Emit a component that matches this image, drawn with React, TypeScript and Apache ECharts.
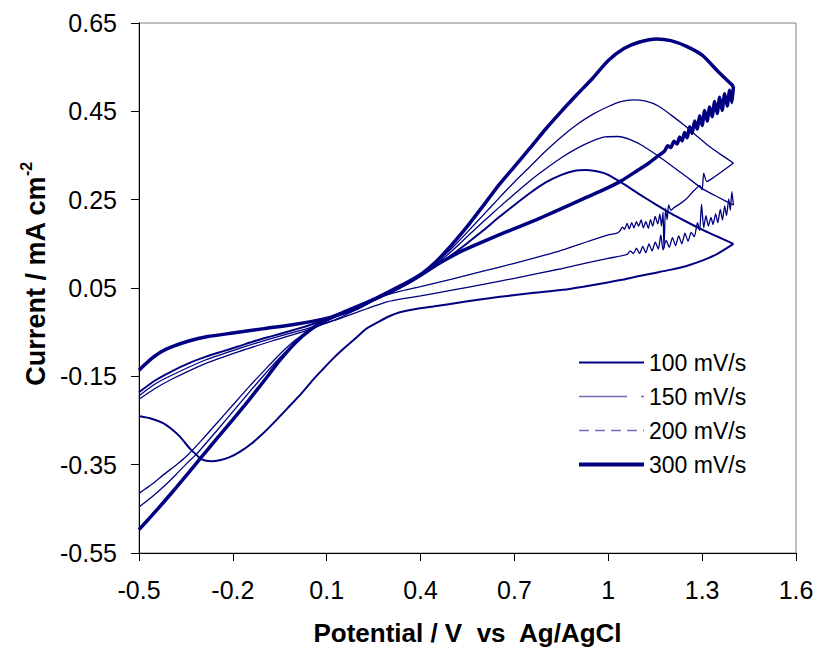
import React, { useEffect, useRef } from "react";
import * as echarts from "echarts";

type Pt = [number, number];

const xTickStart = -0.5;
const xTickEnd = 1.6;
const xTickStep = 0.3;
const yTickStart = -0.55;
const yTickEnd = 0.65;
const yTickStep = 0.2;

const seriesNames = ["100 mV/s", "150 mV/s", "200 mV/s", "300 mV/s"];

// 100 mV/s
const cv100Forward: Pt[] = [
  [-0.5, -0.186], [-0.45, -0.16], [-0.394, -0.138], [-0.34, -0.12], [-0.288, -0.106], [-0.23, -0.093],
  [-0.181, -0.082], [-0.13, -0.07], [-0.075, -0.059], [-0.02, -0.048], [0.032, -0.037], [0.085, -0.025],
  [0.139, -0.012], [0.2, 0.006], [0.25, 0.022], [0.3, 0.039], [0.35, 0.057], [0.4, 0.077], [0.45, 0.1],
  [0.5, 0.125], [0.55, 0.152], [0.6, 0.18], [0.65, 0.21], [0.7, 0.238], [0.75, 0.265], [0.8, 0.289],
  [0.85, 0.306], [0.89, 0.315], [0.93, 0.317], [0.97, 0.313], [1.0, 0.306], [1.05, 0.285], [1.1, 0.262],
  [1.15, 0.24], [1.2, 0.219], [1.25, 0.2], [1.3, 0.182], [1.35, 0.166], [1.4, 0.15],
];
const cv100Reverse: Pt[] = [
  [1.4, 0.15], [1.35, 0.128], [1.304, 0.113], [1.25, 0.1], [1.197, 0.091], [1.14, 0.083], [1.091, 0.076],
  [1.04, 0.068], [0.984, 0.061], [0.92, 0.053], [0.856, 0.046], [0.75, 0.038], [0.654, 0.03], [0.55, 0.02],
  [0.44, 0.008], [0.38, 0.002], [0.334, -0.005], [0.3, -0.014], [0.267, -0.026], [0.227, -0.042],
  [0.192, -0.064], [0.15, -0.09], [0.12, -0.11], [0.085, -0.136], [0.056, -0.158], [0.02, -0.188],
  [-0.025, -0.222], [-0.065, -0.252], [-0.103, -0.279], [-0.14, -0.302], [-0.178, -0.321], [-0.21, -0.333],
  [-0.242, -0.34], [-0.27, -0.342], [-0.3, -0.338], [-0.316, -0.328], [-0.338, -0.313], [-0.37, -0.286],
  [-0.4, -0.267], [-0.423, -0.256], [-0.46, -0.246], [-0.5, -0.24],
];

// 150 mV/s
const cv150Forward: Pt[] = [
  [-0.5, -0.415], [-0.46, -0.395], [-0.42, -0.372], [-0.38, -0.35], [-0.35, -0.332], [-0.3, -0.295],
  [-0.25, -0.255], [-0.2, -0.215], [-0.15, -0.175], [-0.1, -0.137], [-0.05, -0.1], [0.0, -0.068],
  [0.05, -0.043], [0.1, -0.023], [0.15, -0.007], [0.2, 0.008], [0.25, 0.023], [0.3, 0.04], [0.35, 0.058],
  [0.4, 0.078], [0.45, 0.104], [0.5, 0.134], [0.55, 0.167], [0.6, 0.2], [0.65, 0.232], [0.7, 0.263],
  [0.75, 0.293], [0.8, 0.32], [0.85, 0.345], [0.9, 0.366], [0.95, 0.383], [0.99, 0.392], [1.03, 0.393],
  [1.07, 0.386], [1.11, 0.372], [1.165, 0.346], [1.2, 0.328], [1.25, 0.302], [1.3, 0.275], [1.35, 0.256],
  [1.4, 0.238],
];
const cv150Reverse: Pt[] = [
  [1.4, 0.238], [1.395, 0.268], [1.39, 0.226], [1.385, 0.252], [1.378, 0.214], [1.372, 0.236],
  [1.365, 0.204], [1.358, 0.228], [1.35, 0.198], [1.343, 0.218], [1.335, 0.194], [1.328, 0.21],
  [1.32, 0.19], [1.312, 0.214], [1.305, 0.186], [1.298, 0.24], [1.292, 0.18], [1.285, 0.198],
  [1.275, 0.166], [1.265, 0.176], [1.255, 0.156], [1.245, 0.174], [1.235, 0.15], [1.225, 0.168],
  [1.215, 0.146], [1.205, 0.164], [1.195, 0.142], [1.185, 0.158], [1.175, 0.136], [1.168, 0.17],
  [1.16, 0.138], [1.15, 0.154], [1.14, 0.134], [1.13, 0.15], [1.12, 0.13], [1.11, 0.144], [1.1, 0.128],
  [1.09, 0.14], [1.08, 0.128], [1.07, 0.134], [1.06, 0.126], [1.0, 0.117], [0.9, 0.102], [0.845, 0.093],
  [0.7, 0.072], [0.6, 0.058], [0.5, 0.045], [0.4, 0.032], [0.33, 0.024], [0.28, 0.016], [0.2, -0.004],
  [0.139, -0.02], [0.085, -0.032], [0.032, -0.043], [-0.075, -0.064], [-0.181, -0.087], [-0.288, -0.113],
  [-0.394, -0.147], [-0.45, -0.168], [-0.5, -0.194],
];

// 200 mV/s
const cv200Forward: Pt[] = [
  [-0.5, -0.446], [-0.46, -0.424], [-0.42, -0.399], [-0.38, -0.371], [-0.34, -0.342], [-0.316, -0.326],
  [-0.25, -0.272], [-0.2, -0.23], [-0.15, -0.188], [-0.1, -0.147], [-0.05, -0.108], [0.0, -0.074],
  [0.05, -0.046], [0.1, -0.025], [0.15, -0.008], [0.2, 0.008], [0.25, 0.023], [0.3, 0.04], [0.35, 0.058],
  [0.4, 0.08], [0.45, 0.108], [0.5, 0.14], [0.55, 0.177], [0.6, 0.215], [0.65, 0.253], [0.7, 0.29],
  [0.75, 0.325], [0.8, 0.36], [0.85, 0.392], [0.9, 0.42], [0.95, 0.443], [1.0, 0.461], [1.04, 0.472],
  [1.08, 0.476], [1.12, 0.473], [1.16, 0.462], [1.2, 0.442], [1.24, 0.42], [1.28, 0.396], [1.32, 0.372],
  [1.36, 0.352], [1.4, 0.333],
];
const cv200Reverse: Pt[] = [
  [1.4, 0.333], [1.37, 0.317], [1.34, 0.302], [1.315, 0.291], [1.305, 0.31], [1.3, 0.272], [1.293, 0.282],
  [1.27, 0.268], [1.25, 0.252], [1.23, 0.241], [1.21, 0.232], [1.2, 0.226], [1.193, 0.238], [1.188, 0.205],
  [1.183, 0.23], [1.178, 0.14], [1.175, 0.222], [1.17, 0.19], [1.165, 0.218], [1.158, 0.195], [1.15, 0.212],
  [1.142, 0.19], [1.135, 0.205], [1.128, 0.185], [1.12, 0.2], [1.112, 0.186], [1.105, 0.204], [1.097, 0.19],
  [1.09, 0.2], [1.082, 0.186], [1.075, 0.198], [1.067, 0.184], [1.06, 0.196], [1.052, 0.183], [1.045, 0.188],
  [1.038, 0.18], [1.03, 0.175], [0.995, 0.169], [0.95, 0.159], [0.9, 0.147], [0.845, 0.134], [0.8, 0.125],
  [0.7, 0.106], [0.6, 0.088], [0.5, 0.07], [0.4, 0.053], [0.33, 0.042], [0.28, 0.032], [0.2, 0.003],
  [0.139, -0.018], [0.085, -0.033], [0.032, -0.047], [-0.075, -0.07], [-0.181, -0.094], [-0.288, -0.121],
  [-0.394, -0.156], [-0.45, -0.178], [-0.5, -0.202],
];

// 300 mV/s
const cv300Forward: Pt[] = [
  [-0.5, -0.497], [-0.46, -0.466], [-0.42, -0.434], [-0.38, -0.401], [-0.34, -0.367], [-0.304, -0.336],
  [-0.25, -0.29], [-0.2, -0.248], [-0.15, -0.205], [-0.1, -0.16], [-0.05, -0.114], [0.0, -0.074],
  [0.05, -0.043], [0.1, -0.022], [0.15, -0.006], [0.2, 0.009], [0.25, 0.024], [0.3, 0.04], [0.35, 0.058],
  [0.4, 0.08], [0.45, 0.11], [0.5, 0.148], [0.55, 0.19], [0.6, 0.236], [0.65, 0.283], [0.7, 0.325],
  [0.75, 0.367], [0.8, 0.41], [0.85, 0.45], [0.9, 0.488], [0.95, 0.525], [1.0, 0.565], [1.05, 0.592],
  [1.1, 0.607], [1.155, 0.614], [1.2, 0.61], [1.25, 0.597], [1.3, 0.577], [1.35, 0.541], [1.4, 0.507],
];
const cv300Reverse: Pt[] = [
  [1.4, 0.507], [1.395, 0.47], [1.388, 0.498], [1.38, 0.462], [1.372, 0.49], [1.364, 0.452], [1.356, 0.482],
  [1.348, 0.445], [1.34, 0.472], [1.332, 0.438], [1.324, 0.46], [1.316, 0.428], [1.308, 0.452], [1.3, 0.418],
  [1.292, 0.44], [1.284, 0.41], [1.276, 0.428], [1.268, 0.4], [1.26, 0.415], [1.252, 0.39], [1.244, 0.402],
  [1.236, 0.383], [1.228, 0.392], [1.22, 0.376], [1.21, 0.382], [1.2, 0.368], [1.19, 0.372], [1.18, 0.36],
  [1.165, 0.352], [1.13, 0.333], [1.091, 0.315], [1.04, 0.292], [0.984, 0.272], [0.93, 0.255], [0.877, 0.238],
  [0.82, 0.22], [0.771, 0.205], [0.72, 0.19], [0.664, 0.174], [0.6, 0.155], [0.536, 0.135], [0.5, 0.122],
  [0.45, 0.102], [0.4, 0.08], [0.35, 0.06], [0.3, 0.042], [0.25, 0.024], [0.2, 0.005], [0.15, -0.008],
  [0.085, -0.021], [0.0, -0.032], [-0.1, -0.042], [-0.2, -0.052], [-0.28, -0.06], [-0.341, -0.07],
  [-0.394, -0.083], [-0.43, -0.095], [-0.46, -0.11], [-0.5, -0.136],
];

const FONT = "'Liberation Sans', Arial, sans-serif";
const NAVY = "#000080";
const HIDDEN_SYMBOL = { opacity: 0, color: "rgba(0,0,0,0)", borderWidth: 0 };

export default function App() {
  const ref = useRef<HTMLDivElement>(null);

  useEffect(() => {
    if (!ref.current) return;
    const chart = echarts.init(ref.current, null, { renderer: "svg" });

    const branches: { name: string; data: Pt[]; width: number; z: number }[] = [
      { name: seriesNames[0], data: cv100Forward, width: 2, z: 2 },
      { name: seriesNames[0], data: cv100Reverse, width: 2, z: 2 },
      { name: seriesNames[1], data: cv150Forward, width: 1.3, z: 3 },
      { name: seriesNames[1], data: cv150Reverse, width: 1.3, z: 3 },
      { name: seriesNames[2], data: cv200Forward, width: 1.3, z: 4 },
      { name: seriesNames[2], data: cv200Reverse, width: 1.3, z: 4 },
      { name: seriesNames[3], data: cv300Forward, width: 3.5, z: 5 },
      { name: seriesNames[3], data: cv300Reverse, width: 3.5, z: 5 },
    ];

    const option: any = {
      animation: false,
      backgroundColor: "#ffffff",
      textStyle: { fontFamily: FONT },
      grid: {
        left: 139,
        top: 23,
        width: 657,
        height: 530,
        show: true,
        borderColor: "#808080",
        borderWidth: 1,
        backgroundColor: "transparent",
      },
      legend: {
        orient: "vertical",
        left: 577,
        top: 351,
        padding: 0,
        itemWidth: 65,
        itemHeight: 14,
        itemGap: 11,
        selectedMode: false,
        itemStyle: HIDDEN_SYMBOL,
        textStyle: { fontSize: 23, color: "#000", fontFamily: FONT },
        data: [
          { name: seriesNames[0], itemStyle: HIDDEN_SYMBOL, lineStyle: { width: 2, color: NAVY } },
          { name: seriesNames[1], itemStyle: HIDDEN_SYMBOL, lineStyle: { width: 1.5, color: "#7070b8", type: [48, 14, 3, 0] } },
          { name: seriesNames[2], itemStyle: HIDDEN_SYMBOL, lineStyle: { width: 1.5, color: "#7070b8", type: [10, 6] } },
          { name: seriesNames[3], itemStyle: HIDDEN_SYMBOL, lineStyle: { width: 4, color: NAVY } },
        ],
      },
      xAxis: {
        type: "value",
        min: xTickStart,
        max: xTickEnd,
        interval: xTickStep,
        name: "Potential / V\u00A0 vs\u00A0 Ag/AgCl",
        nameLocation: "middle",
        nameGap: 67,
        nameTextStyle: { fontSize: 26, fontWeight: "bold", color: "#000", fontFamily: FONT },
        axisLine: { show: true, onZero: false, lineStyle: { color: "#000", width: 1 } },
        axisTick: { show: true, inside: false, length: 8, lineStyle: { color: "#000" } },
        splitLine: { show: false },
        axisLabel: {
          margin: 24,
          fontSize: 25,
          color: "#000",
          fontFamily: FONT,
          formatter: (v: number) => String(Math.round(v * 10) / 10),
        },
      },
      yAxis: {
        type: "value",
        min: yTickStart,
        max: yTickEnd,
        interval: yTickStep,
        name: "{a|Current / mA cm}{b|-2}",
        nameLocation: "middle",
        nameGap: 86,
        nameRotate: 90,
        nameTextStyle: {
          padding: [0, 0, 0, 28],
          rich: {
            a: { fontSize: 27, fontWeight: "bold", color: "#000", fontFamily: FONT, lineHeight: 34 },
            b: { fontSize: 16, fontWeight: "bold", color: "#000", fontFamily: FONT, verticalAlign: "top", lineHeight: 16 },
          },
        },
        axisLine: { show: true, onZero: false, lineStyle: { color: "#000", width: 1 } },
        axisTick: { show: true, inside: false, length: 8, lineStyle: { color: "#000" } },
        splitLine: { show: false },
        axisLabel: {
          margin: 22,
          fontSize: 25,
          color: "#000",
          fontFamily: FONT,
          formatter: (v: number) => (Math.round(v * 100) / 100).toFixed(2),
        },
      },
      series: branches.map((b) => ({
        type: "line",
        name: b.name,
        data: b.data,
        symbol: "none",
        showSymbol: false,
        smooth: 0.2,
        silent: true,
        z: b.z,
        lineStyle: { color: NAVY, width: b.width },
        itemStyle: { color: NAVY },
      })),
    };

    chart.setOption(option);
    return () => chart.dispose();
  }, []);

  return (
    <div
      ref={ref}
      style={{ position: "fixed", left: 0, top: 0, width: 820, height: 658, background: "#fff" }}
    />
  );
}
